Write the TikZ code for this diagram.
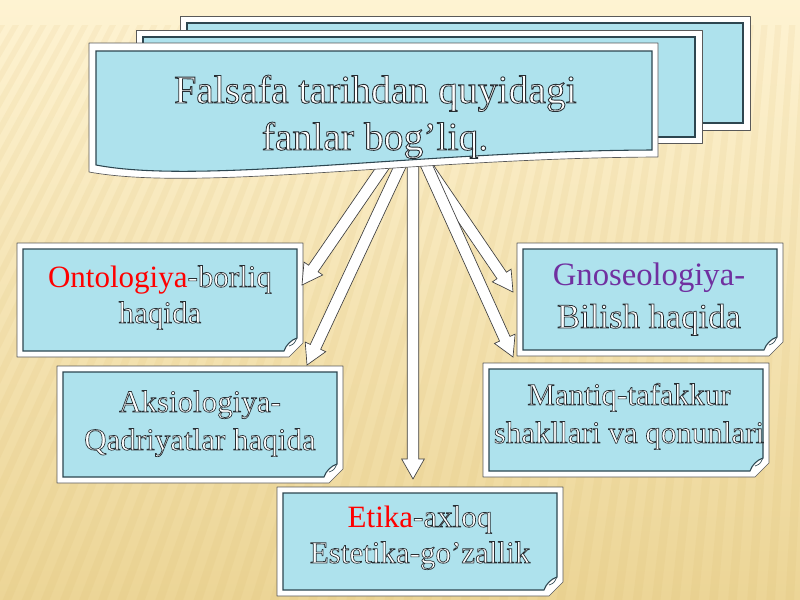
\documentclass[tikz,border=0pt]{standalone}
\usepackage{fontspec}
\setmainfont{Liberation Serif}
\newfontfamily\olfont[FakeBold=2.2]{Liberation Serif}
\usetikzlibrary{calc}
\definecolor{water}{RGB}{174,226,237}
\definecolor{inl}{RGB}{45,70,80}
\definecolor{bgtop}{RGB}{254,243,210}
\definecolor{bgbot}{RGB}{236,213,150}
\definecolor{stripe}{RGB}{215,180,100}
\definecolor{purp}{RGB}{112,48,160}
\newcommand\ow[1]{{\olfont\color{white}\special{pdf:literal direct 0.15 0.18 0.2 RG}#1}}
\tikzset{
  panelframe/.style={fill=white, draw=black!65, line width=0.5pt, line join=round},
  panelwater/.style={fill=water, draw=inl, line width=0.8pt},
  pbox/.style={inner sep=0pt, outer sep=0pt, draw=none},
  blk/.style={fill=white, draw=black!75, line width=0.5pt, line join=miter},
  ttl/.style={font=\fontsize{29.7}{35}\selectfont, anchor=base, inner sep=0pt},
  txt/.style={font=\fontsize{23.25}{27}\selectfont, anchor=base, inner sep=0pt},
}
\newcommand\panel[5]{%
  \draw[panelframe] (#2,#3) -- (#4,#3) -- (#4,#5-14) -- (#4-14,#5) -- (#2,#5) -- cycle;
  \draw[panelwater] (#2+6,#3+6) -- (#4-6,#3+6) -- (#4-6,#5-19)
     .. controls (#4-12,#5-17) and (#4-17,#5-12) .. (#4-19,#5-6) -- (#2+6,#5-6) -- cycle;
  \draw[inl, line width=0.5pt] (#4-6,#5-19) .. controls (#4-9,#5-13) .. (#4-14,#5-11);
  \node[pbox, minimum width={(#4-#2)*0.75pt}, minimum height={(#5-#3)*0.75pt}] (#1) at ({(#2+#4)/2},{(#3+#5)/2}) {};
}
\newcommand\blkarrow[2]{%
  \coordinate (hb) at ($(#2)!15pt!(#1)$);
  \draw[blk] ($(#1)!4.3pt!90:(#2)$) -- ($(hb)!4.3pt!90:(#2)$) -- ($(hb)!8.5pt!90:(#2)$) -- (#2)
     -- ($(hb)!8.5pt!-90:(#2)$) -- ($(hb)!4.3pt!-90:(#2)$) -- ($(#1)!4.3pt!-90:(#2)$) -- cycle;
}
\begin{document}
\begin{tikzpicture}[x=0.75pt,y=-0.75pt]
\useasboundingbox (0,0) rectangle (800,600);
\shade[top color=bgtop, bottom color=bgbot] (0,0) rectangle (800,600);
\begin{scope}
  \clip (0,25) rectangle (800,600);
  \foreach \x in {-700,-680,...,1100} \fill[stripe, opacity=0.10] (900,-1500) -- (\x,700) -- (\x+9,700) -- cycle;
\end{scope}

% stacked title panels
\draw[panelframe] (180,16) rectangle (750,130);
\draw[panelwater] (187,23) rectangle (743,123);
\node[pbox, minimum width={570*0.75pt}, minimum height={114*0.75pt}] (back2) at (465,73) {};
\draw[panelframe] (136,30) rectangle (702,143);
\draw[panelwater] (143,37) rectangle (695,137);
\node[pbox, minimum width={566*0.75pt}, minimum height={113*0.75pt}] (back1) at (419,86.5) {};

% connector start points
\coordinate (s-onto) at (388,160);
\coordinate (s-aksio) at (403,160);
\coordinate (s-etika) at (413,160);
\coordinate (s-mantiq) at (424,160);
\coordinate (s-gnoseo) at (423,160);

% topic panels
\panel{onto}{17}{243}{303}{357}
\panel{aksio}{57}{366}{343}{483}
\panel{gnoseo}{517}{243}{783}{356}
\panel{mantiq}{483}{363}{769}{477}
\panel{etika}{277}{487}{563}{596}

\coordinate (t-onto) at ($(onto.east |- 0,285)+(-1,0)$);
\coordinate (t-aksio) at ($(307,0 |- aksio.north)+(0,-1)$);
\coordinate (t-etika) at ($(413,0 |- etika.north)+(0,-8)$);
\coordinate (t-gnoseo) at ($(gnoseo.west |- 0,292)+(-4,0)$);
\coordinate (t-mantiq) at ($(513,0 |- mantiq.north)+(0,-6)$);

\blkarrow{s-onto}{t-onto}
\blkarrow{s-aksio}{t-aksio}
\blkarrow{s-etika}{t-etika}
\blkarrow{s-gnoseo}{t-gnoseo}
\blkarrow{s-mantiq}{t-mantiq}

% front title panel
\draw[panelframe] (89,43) -- (658,43) -- (658,157) .. controls (420,158) and (200,192) .. (89,172) -- cycle;
\draw[panelwater] (96,51) -- (652,51) -- (652,150) .. controls (420,151) and (200,185) .. (96,165) -- cycle;
\node[pbox, minimum width={569*0.75pt}, minimum height={129*0.75pt}] (title) at (373.5,107.5) {};

% texts
\node[ttl] (h1) at (375.5,103) {\ow{Falsafa tarihdan quyidagi}};
\node[ttl] (h2) at (375,150) {\ow{fanlar bog’liq.}};
\node[txt] (o1) at (160,287) {\textcolor{red}{Ontologiya}\ow{-borliq}};
\node[txt] (o2) at (160,323) {\ow{haqida}};
\node[txt] (a1) at (200,412) {\ow{Aksiologiya-}};
\node[txt] (a2) at (200,450) {\ow{Qadriyatlar haqida}};
\node[txt, font=\fontsize{24.5}{28}\selectfont] (g1) at (649,285) {\textcolor{purp}{Gnoseologiya-}};
\node[txt, font=\fontsize{26}{30}\selectfont] (g2) at (649,328) {\ow{Bilish haqida}};
\node[txt] (m1) at (629,405) {\ow{Mantiq-tafakkur}};
\node[txt] (m2) at (629,443) {\ow{shakllari va qonunlari}};
\node[txt] (e1) at (420,527) {\textcolor{red}{Etika}\ow{-axloq}};
\node[txt] (e2) at (420,563) {\ow{Estetika-go’zallik}};
\end{tikzpicture}
\end{document}
